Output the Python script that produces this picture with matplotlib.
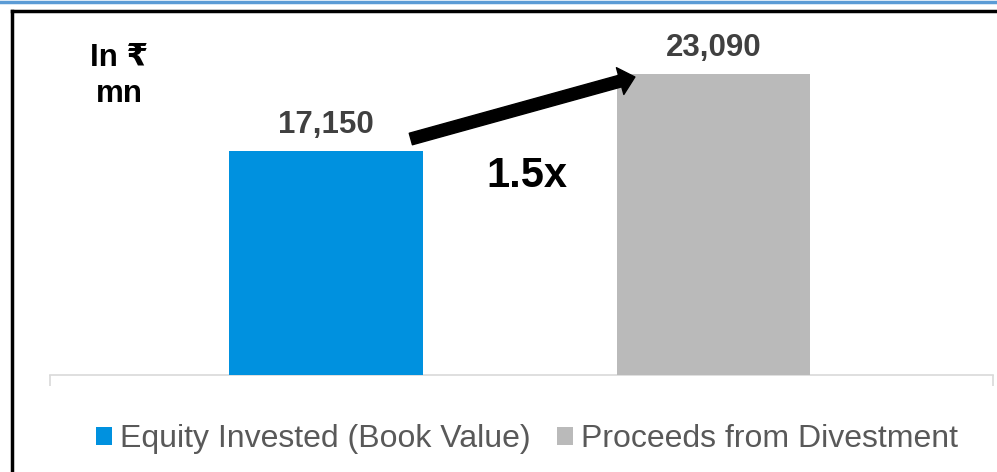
import matplotlib.pyplot as plt
from matplotlib.lines import Line2D
import numpy as np

plt.rcParams['font.family'] = ['Liberation Sans', 'DejaVu Sans']

categories = ['Equity Invested (Book Value)', 'Proceeds from Divestment']
values = [17150, 23090]
bar_labels = ['17,150', '23,090']
colors = ['#0091DF', '#BABABA']
multiple = '1.5x'
unit_text = 'In ₹\nmn'

W, H = 997, 472
fig = plt.figure(figsize=(W/100, H/100), dpi=100)
fig.patch.set_facecolor('white')

# axes box in pixels: x 50..993, y 20..375
ax = fig.add_axes([50/W, (H-375)/H, (993-50)/W, (375-20)/H])
x = np.arange(len(values))
ymax = values[1]*355/301.
xl = (-0.712, 1.721)
ax.set_xlim(xl)
ax.set_ylim(0, ymax)

bars = ax.bar(x, values, width=0.5, color=colors, label=categories, zorder=3)
for xi, v, lab in zip(x, values, bar_labels):
    ax.text(xi, v + ymax*0.031, lab, ha='center', va='bottom', fontsize=22.5,
            fontweight='bold', color='#404040')

# growth arrow between the bars
ax.annotate('', xy=(0.797, values[1]-230), xytext=(0.219, values[0]+954),
            arrowprops=dict(arrowstyle='simple,head_length=0.55,head_width=1.0,tail_width=0.43',
                            mutation_scale=20, color='black', shrinkA=0, shrinkB=0), zorder=5)
ax.text(0.518, values[0]-1850, multiple, ha='center', va='center', fontsize=30,
        fontweight='bold', color='black')

for s in ['top', 'right', 'left']:
    ax.spines[s].set_visible(False)
ax.spines['bottom'].set_color('#D9D9D9')
ax.spines['bottom'].set_linewidth(1.2)
ax.set_yticks([])
ax.set_xticks(list(xl))
ax.set_xticklabels([])
ax.tick_params(axis='x', length=8, width=1.2, color='#D9D9D9', direction='out')

leg = ax.legend(loc='center', bbox_to_anchor=(527/W, (H-439)/H), bbox_transform=fig.transFigure,
                ncol=2, frameon=False, fontsize=23, handlelength=0.5, handleheight=0.5,
                handletextpad=0.25, columnspacing=0.85, labelcolor='#595959')

fig.text(119/W, 1-76/H, unit_text, ha='center', va='center', fontsize=22.5,
         fontweight='bold', color='black', linespacing=1.27)

# slide decoration: blue rule and black frame
fig.add_artist(Line2D([0, 1], [1-1.5/H, 1-1.5/H], color='#5B9BD5', lw=2.5))
fig.add_artist(Line2D([11.5/W, 1], [1-10.5/H, 1-10.5/H], color='black', lw=2.5))
fig.add_artist(Line2D([11.5/W, 11.5/W], [0, 1-10.5/H], color='black', lw=2.5))

plt.savefig('out.png', dpi=100)
